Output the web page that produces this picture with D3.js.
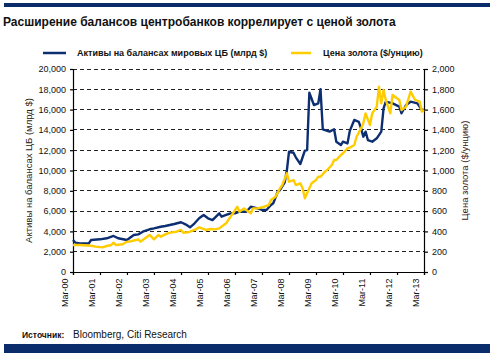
<!DOCTYPE html>
<html><head><meta charset="utf-8">
<script src="https://cdn.jsdelivr.net/npm/d3@7"></script>
<style>body{margin:0;background:#fff}svg{display:block;font-family:"Liberation Sans",Arial,sans-serif}</style>
</head><body><svg id="c" width="493" height="353"></svg>
<script>
const titleText = "Расширение балансов центробанков коррелирует с ценой золота";
const seriesNames = ["Активы на балансах мировых ЦБ (млрд $)", "Цена золота ($/унцию)"];
const leftAxisTitle = "Активы на балансах ЦБ (млрд $)";
const rightAxisTitle = "Цена золота ($/унцию)";
const sourceLabel = "Источник:";
const sourceText = "Bloomberg, Citi Research";
const xTickLabels = ["Mar-00","Mar-01","Mar-02","Mar-03","Mar-04","Mar-05","Mar-06","Mar-07","Mar-08","Mar-09","Mar-10","Mar-11","Mar-12","Mar-13"];
const leftTicks = [0,2000,4000,6000,8000,10000,12000,14000,16000,18000,20000];
const rightTicks = [0,200,400,600,800,1000,1200,1400,1600,1800,2000];

const assetDates = ["2000-03","2000-04","2000-06","2000-10","2000-11","2001-03","2001-06","2001-09","2001-11","2002-03","2002-06","2002-08","2002-10","2003-01","2003-03","2003-06","2003-08","2003-10","2003-12","2004-03","2004-05","2004-07","2004-09","2004-11","2005-01","2005-03","2005-05","2005-08","2005-09","2005-11","2006-01","2006-03","2006-05","2006-08","2006-10","2007-01","2007-03","2007-05","2007-07","2007-08","2007-10","2007-11","2008-01","2008-02","2008-03","2008-05","2008-06","2008-08","2008-10","2008-11","2008-12","2009-02","2009-04","2009-05","2009-06","2009-09","2009-11","2009-12","2010-02","2010-03","2010-05","2010-06","2010-08","2010-10","2010-11","2010-12","2011-01","2011-02","2011-04","2011-06","2011-08","2011-09","2011-10","2012-01","2012-04","2012-05","2012-07","2012-09","2012-12","2013-02","2013-03"];
const assetValues = [3150,2900,2820,2820,3150,3220,3320,3550,3320,3150,3650,3710,3970,4210,4300,4460,4530,4630,4730,4900,4700,4400,4800,5290,5620,5290,5120,5780,5450,5620,5780,5780,5940,5940,6430,6270,6110,6110,6600,6770,7910,8080,8800,10000,11850,11750,11300,10640,11950,12020,17660,16450,16620,18000,14060,13830,14060,12840,12510,12840,12670,13900,14980,14800,14150,13330,13830,13000,12840,13170,13830,16130,16780,16620,16290,15640,16450,16780,16620,15960,15960];

const goldDates = ["2000-03","2000-06","2000-11","2001-01","2001-04","2001-06","2001-08","2001-09","2001-10","2002-01","2002-03","2002-04","2002-07","2002-08","2002-09","2002-11","2003-01","2003-03","2003-05","2003-06","2003-09","2003-11","2004-01","2004-03","2004-04","2004-06","2004-07","2004-09","2004-11","2005-02","2005-04","2005-06","2005-08","2005-11","2006-01","2006-02","2006-04","2006-05","2006-07","2006-08","2006-10","2006-11","2007-01","2007-04","2007-06","2007-07","2007-09","2007-11","2007-12","2008-02","2008-03","2008-05","2008-06","2008-08","2008-09","2008-10","2008-12","2009-01","2009-03","2009-04","2009-05","2009-07","2009-08","2009-10","2009-11","2009-12","2010-02","2010-03","2010-05","2010-06","2010-08","2010-09","2010-11","2010-12","2011-01","2011-03","2011-04","2011-06","2011-07","2011-08","2011-09","2011-10","2011-12","2012-01","2012-04","2012-05","2012-07","2012-09","2012-11","2013-01","2013-02","2013-03"];
const goldValues = [266,266,259,250,243,256,266,289,266,273,299,299,315,322,299,332,365,322,365,348,381,391,397,414,387,391,397,414,440,414,424,420,430,480,545,578,643,594,627,611,578,627,627,643,660,709,742,825,857,972,890,906,857,874,825,726,825,874,906,939,939,989,1005,1054,1103,1103,1153,1170,1219,1225,1251,1333,1415,1465,1563,1448,1563,1629,1826,1662,1793,1695,1563,1744,1695,1596,1629,1777,1695,1678,1580,1596];

const navy = "#0b2c6b", blueLine = "#0d2f72", gold = "#ffcc00";
const parse = d3.timeParse("%Y-%m");
const svg = d3.select("#c");
const L = 73, R = 424, T = 69, B = 272;

const x = d3.scaleTime().domain([parse("2000-03"), parse("2013-03")]).range([L, R]);
const yL = d3.scaleLinear().domain([0, 20000]).range([B, T]);
const yR = d3.scaleLinear().domain([0, 2000]).range([B, T]);

svg.append("rect").attr("x",4).attr("y",3).attr("width",486).attr("height",4).attr("fill",navy);
svg.append("rect").attr("x",4).attr("y",344).attr("width",486).attr("height",9).attr("fill",navy);

svg.append("text").attr("x",3).attr("y",26).attr("font-size",12).attr("font-weight","bold").attr("fill","#111").text(titleText);

const lg = svg.append("g").attr("font-size",9).attr("font-weight","bold").attr("fill","#111");
lg.append("line").attr("x1",43).attr("x2",66).attr("y1",53).attr("y2",53).attr("stroke",blueLine).attr("stroke-width",2.5);
lg.append("text").attr("x",77).attr("y",56).text(seriesNames[0]);
lg.append("line").attr("x1",291).attr("x2",311).attr("y1",53).attr("y2",53).attr("stroke",gold).attr("stroke-width",2.5);
lg.append("text").attr("x",323).attr("y",56).text(seriesNames[1]);

svg.append("g").selectAll("line").data(leftTicks.slice(1)).join("line")
  .attr("x1",L).attr("x2",R).attr("y1",d=>yL(d)).attr("y2",d=>yL(d))
  .attr("stroke","#222").attr("stroke-width",1).attr("stroke-dasharray","4,3")
  .attr("shape-rendering","crispEdges");

const fmt = d3.format(",");
const gl = svg.append("g").attr("transform",`translate(${L},0)`)
  .call(d3.axisLeft(yL).tickValues(leftTicks).tickFormat(fmt).tickSize(3).tickPadding(4));
const gr = svg.append("g").attr("transform",`translate(${R},0)`)
  .call(d3.axisRight(yR).tickValues(rightTicks).tickFormat(fmt).tickSize(4).tickPadding(4));
const tickDates = xTickLabels.map((s,i)=>parse((2000+i)+"-03"));
const gx = svg.append("g").attr("transform",`translate(0,${B})`)
  .call(d3.axisBottom(x).tickValues(tickDates).tickFormat((d,i)=>xTickLabels[i]).tickSize(3).tickPadding(2));
gx.selectAll("text").attr("transform","rotate(-90)").attr("text-anchor","end").attr("dx","-0.4em").attr("dy","-0.6em").attr("x",-3).attr("y",0);
[gl,gr,gx].forEach(g=>{
  g.selectAll("text").attr("font-size",9).attr("fill","#111").attr("font-family","'Liberation Sans',Arial,sans-serif");
  g.selectAll("path,line").attr("stroke","#000").attr("stroke-width",1.2);
});

svg.append("text").attr("transform",`translate(32,${(T+B)/2}) rotate(-90)`).attr("text-anchor","middle")
  .attr("font-size",9.5).attr("fill","#2a1a10").text(leftAxisTitle);
svg.append("text").attr("transform",`translate(468,${(T+B)/2}) rotate(-90)`).attr("text-anchor","middle")
  .attr("font-size",9.5).attr("fill","#3a1515").text(rightAxisTitle);

const assets = assetDates.map((d,i)=>({d:parse(d),v:assetValues[i]}));
const golds = goldDates.map((d,i)=>({d:parse(d),v:goldValues[i]}));
svg.append("path").datum(assets).attr("fill","none").attr("stroke",blueLine).attr("stroke-width",2.4)
  .attr("stroke-linejoin","round").attr("d",d3.line().x(p=>x(p.d)).y(p=>yL(p.v)));
svg.append("path").datum(golds).attr("fill","none").attr("stroke",gold).attr("stroke-width",2.4)
  .attr("stroke-linejoin","round").attr("d",d3.line().x(p=>x(p.d)).y(p=>yR(p.v)));

svg.append("text").attr("x",22).attr("y",338).attr("font-size",8.5).attr("font-weight","bold").attr("fill","#111").text(sourceLabel);
svg.append("text").attr("x",73).attr("y",338).attr("font-size",10).attr("fill","#111").text(sourceText);
</script></body></html>
